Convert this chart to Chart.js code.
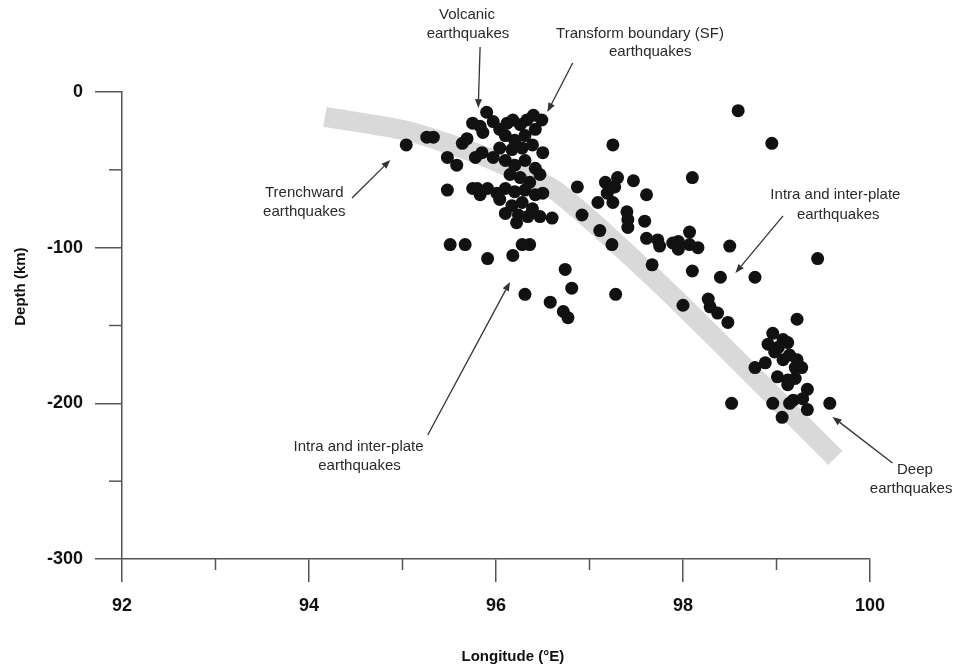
<!DOCTYPE html>
<html><head><meta charset="utf-8">
<script src="https://cdn.jsdelivr.net/npm/chart.js@4.4.1/dist/chart.umd.min.js"></script>
<style>html,body{margin:0;padding:0;background:#fff;}#wrap{width:968px;height:667px;position:relative;}</style>
</head><body><div id="wrap"><canvas id="c" width="968" height="667"></canvas></div>
<script>
// Earthquake hypocentres: longitude (°E) and depth (km, negative downward)
const longitudes = [
  95.04,95.26,95.33,95.64,95.69,95.48,95.58,95.48,95.75,95.80,95.83,95.91,95.78,95.85,95.97,95.75,95.83,95.90,95.97,95.86,
  96.04,96.12,96.18,96.33,96.40,96.49,96.50,96.50,96.60,96.47,96.34,96.22,
  96.26,96.10,96.20,96.31,96.42,96.04,96.17,96.28,96.39,96.10,96.20,96.31,96.42,96.15,96.26,96.36,96.47,96.10,96.20,96.31,96.42,96.04,96.17,96.28,96.39,96.10,96.24,96.01,
  95.51,95.67,95.91,96.18,96.28,96.36,96.74,96.81,96.31,96.58,96.72,96.77,97.28,
  96.87,97.25,96.92,97.11,97.24,97.17,97.30,97.27,97.19,97.09,97.25,97.47,97.61,97.40,97.41,97.41,97.59,97.61,97.73,97.75,97.89,97.95,97.95,98.07,98.07,98.16,
  98.50,99.44,97.67,98.10,98.40,98.77,98.00,98.27,98.29,98.37,98.48,99.22,98.96,99.07,98.10,98.95,98.59,
  98.91,99.02,99.12,98.98,99.14,99.22,99.07,99.20,99.27,98.77,98.88,99.01,99.12,99.20,99.12,99.33,99.28,99.18,99.33,98.96,99.14,99.06,99.57,98.52
];
const depths = [
  -34,-29,-29,-33,-30,-42,-47,-63,-62,-62,-66,-62,-42,-39,-42,-20,-22,-13,-19,-26,
  -24,-20,-18,-18,-15,-18,-39,-65,-81,-80,-80,-84,
  -21,-28,-31,-28,-24,-36,-37,-36,-34,-44,-47,-44,-49,-53,-55,-58,-53,-62,-64,-63,-66,-69,-73,-71,-75,-78,-79,-65,
  -98,-98,-107,-105,-98,-98,-114,-126,-130,-135,-141,-145,-130,
  -61,-34,-79,-89,-98,-58,-55,-61,-65,-71,-71,-57,-66,-77,-82,-87,-83,-94,-95,-99,-97,-96,-101,-90,-98,-100,
  -99,-107,-111,-115,-119,-119,-137,-133,-138,-142,-148,-146,-155,-159,-55,-33,-12,
  -162,-164,-161,-167,-169,-172,-172,-177,-177,-177,-174,-183,-185,-184,-188,-191,-197,-198,-204,-200,-200,-209,-200,-200
];
// Subducting slab (grey band) centre line
const slabLon = [94.17, 95.05, 95.90, 96.65, 97.82, 99.63];
const slabDepth = [-16, -25, -42, -64, -127, -235];

const xTicks = [92, 94, 96, 98, 100];
const xMinorTicks = [93, 95, 97, 99];
const yTicks = [0, -100, -200, -300];
const yMinorTicks = [-50, -150, -250];
const xTitle = 'Longitude (°E)';
const yTitle = 'Depth (km)';

// Annotation labels: text lines (lon, depth of line centre) and arrow from -> to
const annotationTexts = [
  ['Volcanic', 95.69, 49.5], ['earthquakes', 95.70, 37.3],
  ['Transform boundary (SF)', 97.54, 37.6], ['earthquakes', 97.65, 26.0],
  ['Trenchward', 93.95, -65.0], ['earthquakes', 93.95, -77.2],
  ['Intra and inter-plate', 99.63, -66.2], ['earthquakes', 99.66, -78.8],
  ['Intra and inter-plate', 94.53, -228.0], ['earthquakes', 94.54, -240.2],
  ['Deep', 100.48, -242.8], ['earthquakes', 100.44, -255.0]
];
const annotationArrows = [
  [95.83, 28.9, 95.81, -10.3],
  [96.82, 18.6, 96.55, -12.8],
  [94.46, -68.1, 94.87, -43.7],
  [99.07, -79.6, 98.56, -116.3],
  [95.27, -220.3, 96.15, -122.0],
  [100.24, -238.3, 99.60, -208.7]
];

const FONT = '"Liberation Sans", Arial, Helvetica, sans-serif';

const extras = {
  id: 'extras',
  afterDraw(chart) {
    const ctx = chart.ctx, xs = chart.scales.x, ys = chart.scales.y;
    const ca = chart.chartArea;
    ctx.save();
    // minor ticks
    ctx.strokeStyle = '#555'; ctx.lineWidth = 1.5;
    xMinorTicks.forEach(v => {
      const px = xs.getPixelForValue(v);
      ctx.beginPath(); ctx.moveTo(px, ca.bottom); ctx.lineTo(px, ca.bottom + 11); ctx.stroke();
    });
    yMinorTicks.forEach(v => {
      const py = ys.getPixelForValue(v);
      ctx.beginPath(); ctx.moveTo(ca.left, py); ctx.lineTo(ca.left - 13, py); ctx.stroke();
    });
    // axis titles
    ctx.fillStyle = '#111';
    ctx.font = 'bold 15px ' + FONT;
    ctx.textAlign = 'center'; ctx.textBaseline = 'middle';
    ctx.fillText(xTitle, xs.getPixelForValue(96.18), 657);
    ctx.save();
    ctx.translate(21, ys.getPixelForValue(-125));
    ctx.rotate(-Math.PI / 2);
    ctx.fillText(yTitle, 0, 0);
    ctx.restore();
    // annotation arrows
    ctx.strokeStyle = '#333'; ctx.fillStyle = '#333'; ctx.lineWidth = 1.3;
    annotationArrows.forEach(a => {
      const x1 = xs.getPixelForValue(a[0]), y1 = ys.getPixelForValue(a[1]);
      const x2 = xs.getPixelForValue(a[2]), y2 = ys.getPixelForValue(a[3]);
      const ang = Math.atan2(y2 - y1, x2 - x1);
      const L = 9, W = 3.5;
      const bx = x2 - L * Math.cos(ang), by = y2 - L * Math.sin(ang);
      ctx.beginPath(); ctx.moveTo(x1, y1); ctx.lineTo(bx, by); ctx.stroke();
      ctx.beginPath();
      ctx.moveTo(x2, y2);
      ctx.lineTo(bx + W * Math.sin(ang), by - W * Math.cos(ang));
      ctx.lineTo(bx - W * Math.sin(ang), by + W * Math.cos(ang));
      ctx.closePath(); ctx.fill();
    });
    // annotation texts
    ctx.fillStyle = '#2a2a2a';
    ctx.font = '15px ' + FONT;
    annotationTexts.forEach(t => {
      ctx.fillText(t[0], xs.getPixelForValue(t[1]), ys.getPixelForValue(t[2]));
    });
    ctx.restore();
  }
};

new Chart(document.getElementById('c').getContext('2d'), {
  type: 'scatter',
  data: {
    datasets: [
      {
        type: 'line', label: 'Slab',
        data: slabLon.map((x, i) => ({ x, y: slabDepth[i] })),
        borderColor: '#d9d9d9', borderWidth: 20, pointRadius: 0,
        tension: 0.2, borderCapStyle: 'butt', fill: false, order: 2
      },
      {
        label: 'Earthquakes',
        data: longitudes.map((x, i) => ({ x, y: depths[i] })),
        backgroundColor: '#111', borderColor: '#111', borderWidth: 0,
        pointRadius: 6.5, pointHoverRadius: 6.5, order: 1
      }
    ]
  },
  options: {
    responsive: false, animation: false, devicePixelRatio: 1,
    layout: { padding: { left: 0, right: 98, top: 92, bottom: 0 } },
    plugins: { legend: { display: false }, tooltip: { enabled: false } },
    scales: {
      x: {
        type: 'linear', min: 92, max: 100, position: 'bottom',
        afterBuildTicks: s => { s.ticks = xTicks.map(v => ({ value: v })); },
        afterFit: s => { s.height = 108; },
        grid: { drawOnChartArea: false, drawTicks: true, tickLength: 23, color: '#555', tickColor: '#555', tickWidth: 1.5, lineWidth: 1.5 },
        border: { display: true, color: '#555', width: 1.5 },
        ticks: { color: '#111', font: { family: FONT, size: 18, weight: 'bold' }, padding: 13, maxRotation: 0, autoSkip: false },
        title: { display: false }
      },
      y: {
        type: 'linear', min: -300, max: 0, position: 'left',
        afterBuildTicks: s => { s.ticks = yTicks.map(v => ({ value: v })); },
        afterFit: s => { s.width = 122; },
        grid: { drawOnChartArea: false, drawTicks: true, tickLength: 27, color: '#555', tickColor: '#555', tickWidth: 1.5, lineWidth: 1.5 },
        border: { display: true, color: '#555', width: 1.5 },
        ticks: { color: '#111', font: { family: FONT, size: 18, weight: 'bold' }, padding: 12, autoSkip: false },
        title: { display: false }
      }
    }
  },
  plugins: [extras]
});
</script></body></html>
